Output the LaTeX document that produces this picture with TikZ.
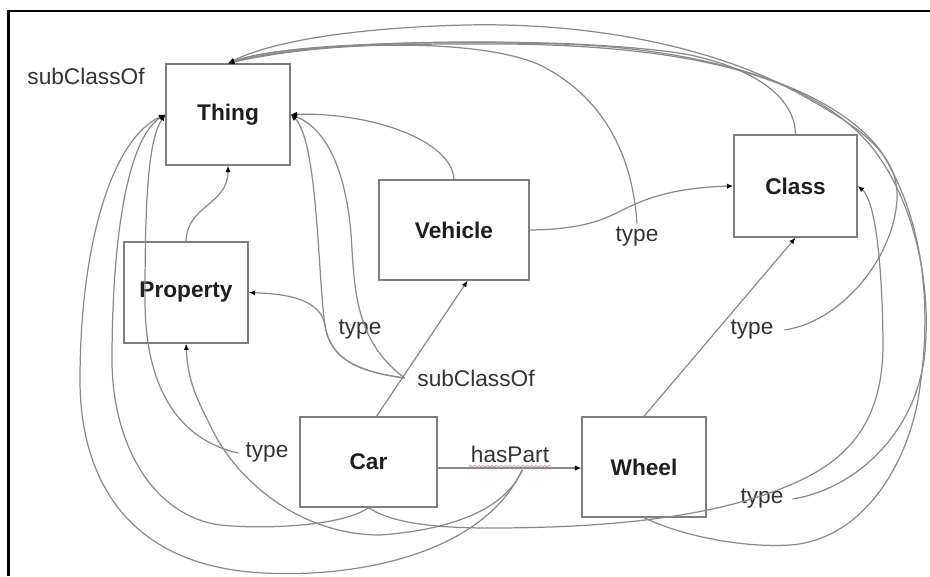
\documentclass[tikz,border=0pt]{standalone}
\usepackage{fontspec}
\setmainfont{Liberation Sans}
\usetikzlibrary{arrows.meta,decorations.pathmorphing}
\definecolor{edgegray}{HTML}{8A8A8A}
\definecolor{boxgray}{HTML}{7E7E7E}
\definecolor{inkdark}{HTML}{1E1E1E}
\definecolor{labelink}{HTML}{333333}
\definecolor{spellred}{HTML}{E8A0A8}
\begin{document}
\begin{tikzpicture}[x=0.02cm,y=-0.02cm,
  font=\fontsize{12.9}{15}\selectfont,
  entity/.style={draw=boxgray, line width=0.8pt, inner sep=0pt,
    font=\fontsize{12.9}{15}\selectfont\bfseries, text=inkdark},
  tag/.style={inner sep=2pt, text=labelink},
  link/.style={draw=edgegray, line width=0.7pt,
    -{Latex[length=3.6pt,width=3pt,color=black]}},
]
\useasboundingbox (0,0) rectangle (930,576);

% frame
\draw[black, line width=1.5pt] (8.5,576) -- (8.5,11) -- (930,11);

% resources
\node[entity, minimum width=2.48cm, minimum height=2.02cm] (thing) at (228,114.5) {Thing};
\node[entity, minimum width=3cm, minimum height=2cm] (vehicle) at (454,230) {Vehicle};
\node[entity, minimum width=2.46cm, minimum height=2.04cm] (cls) at (795.5,186) {Class};
\node[entity, minimum width=2.48cm, minimum height=2.02cm] (property) at (186,292.5) {Property};
\node[entity, minimum width=2.74cm, minimum height=1.8cm] (car) at (368.5,462) {Car};
\node[entity, minimum width=2.48cm, minimum height=2cm] (wheel) at (644,467) {Wheel};

% predicate labels
\node[tag] (subTop) at (86,76) {subClassOf};
\node[tag] (typeVC) at (637,237) {type};
\node[tag] (typeProp) at (360,330) {type};
\node[tag] (subCar) at (476,378) {subClassOf};
\node[tag] (typeCls) at (752,330) {type};
\node[tag] (typeCar) at (267,453) {type};
\node[tag] (hasPart) at (510,454) {hasPart};
\node[tag] (typeWheel) at (762,499) {type};

% spell-check underline
\draw[spellred, line width=0.5pt, decorate,
  decoration={snake, amplitude=0.5pt, segment length=2.5pt}]
  ([xshift=1pt]hasPart.south west) -- ([xshift=-1pt]hasPart.south east);

% direct links
\draw[link] (property.north) .. controls (187,205) and (228,205) .. (thing.south);
\draw[link] (vehicle.north) .. controls (452,140) and (370,112) .. (thing.east);
\draw[link] (vehicle.east) .. controls (600,229) and (612,213) .. (640,202)
  .. controls (670,190) and (700,187) .. (cls.west);
\draw[link] (car.80) -- (vehicle.-75);
\draw[link] (wheel.north) -- (cls.south);
\draw[link] (car.-5) -- (car.-5 -| wheel.west);

% from the subClassOf label
\draw[link] ([xshift=-5pt]subCar.west) .. controls (360,372) and (330,360) .. (325,325)
  .. controls (320,300) and (290,294) .. (property.east);
\draw[link] ([xshift=-5pt]subCar.west) .. controls (360,372) and (330,360) .. (325,325)
  .. controls (318,280) and (318,140) .. (thing.east);
\draw[link] ([xshift=-5pt]subCar.west) .. controls (360,345) and (355,300) .. (352,250)
  .. controls (349,180) and (330,130) .. (thing.east);

% left-hand loops
\draw[link] ([xshift=-2pt]typeCar.west) .. controls (180,440) and (145,390) .. (145,300)
  .. controls (145,200) and (148,140) .. (thing.west);
\draw[link] ([xshift=7pt,yshift=-2pt]hasPart.south) .. controls (505,510) and (450,530) .. (380,535)
  .. controls (300,535) and (235,480) .. (210,425)
  .. controls (195,395) and (188,380) .. (property.south);
\draw[link] ([xshift=7pt,yshift=-2pt]hasPart.south) .. controls (480,560) and (340,580) .. (250,572)
  .. controls (120,560) and (80,470) .. (80,380)
  .. controls (80,250) and (110,140) .. (thing.west);
\draw[link] (car.south) .. controls (345,525) and (270,530) .. (220,525)
  .. controls (150,515) and (112,440) .. (112,360)
  .. controls (112,250) and (125,140) .. (thing.west);

% Car type Class, under Wheel
\draw[link] (car.south) .. controls (390,522) and (430,528) .. (490,528)
  .. controls (620,528) and (720,515) .. (790,485)
  .. controls (850,460) and (884,420) .. (883,340)
  .. controls (882,260) and (875,200) .. (cls.east);

% long arcs over the top into Thing
\draw[link] ([xshift=4pt]typeCls.east) .. controls (840,322) and (893,260) .. (897,200)
  .. controls (900,150) and (850,122) .. (798,93)
  .. controls (720,50) and (600,22) .. (465,25)
  .. controls (350,28) and (270,42) .. (thing.north);
\draw[link] (typeVC.north) .. controls (632,150) and (600,95) .. (540,65)
  .. controls (480,38) and (330,40) .. (thing.north);
\draw[link] (cls.north) .. controls (795,100) and (760,70) .. (690,55)
  .. controls (600,38) and (330,35) .. (thing.north);
\draw[link] ([xshift=3pt]typeWheel.east) .. controls (850,490) and (912,440) .. (924,360)
  .. controls (935,270) and (905,170) .. (850,125)
  .. controls (780,65) and (650,42) .. (465,44)
  .. controls (350,44) and (270,48) .. (thing.north);
\draw[link] (wheel.south) .. controls (680,535) and (740,548) .. (790,545)
  .. controls (860,540) and (905,470) .. (918,400)
  .. controls (933,310) and (925,220) .. (880,150)
  .. controls (830,85) and (700,48) .. (560,44)
  .. controls (400,40) and (280,45) .. (thing.north);
\end{tikzpicture}
\end{document}
